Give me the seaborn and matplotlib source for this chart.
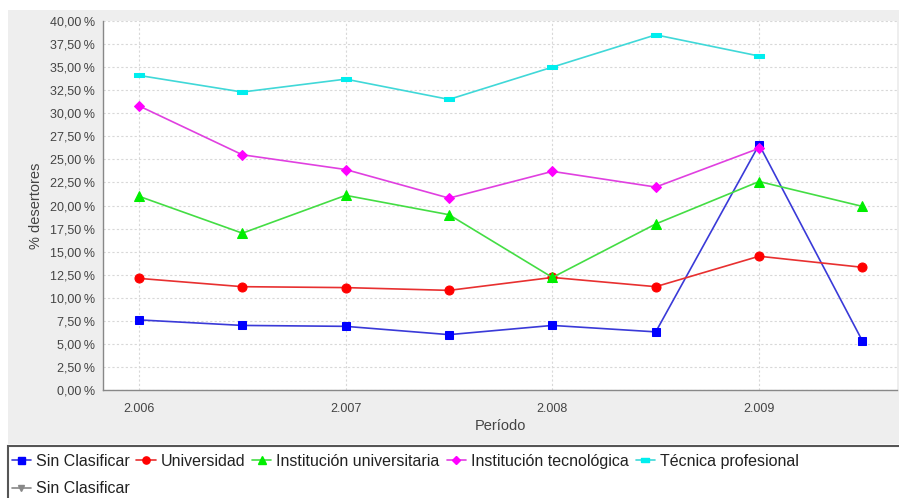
import matplotlib
matplotlib.use("Agg")
import matplotlib.pyplot as plt
import matplotlib.ticker as mticker
from matplotlib.lines import Line2D
from matplotlib.patches import Rectangle
import numpy as np
import pandas as pd
import seaborn as sns

# data (x = period, y = % desertores)
periodos = [2006.0, 2006.5, 2007.0, 2007.5, 2008.0, 2008.5, 2009.0, 2009.5]
sin_clasificar = [7.6, 7.0, 6.9, 6.0, 7.0, 6.3, 26.6, 5.3]
universidad = [12.1, 11.2, 11.1, 10.8, 12.2, 11.2, 14.5, 13.3]
inst_universitaria = [21.0, 17.0, 21.1, 19.0, 12.2, 18.0, 22.6, 19.9]
inst_tecnologica = [30.8, 25.5, 23.9, 20.8, 23.7, 22.0, 26.2, np.nan]
tecnica_profesional = [34.1, 32.3, 33.7, 31.5, 35.0, 38.5, 36.2, np.nan]
year_ticks = [2006, 2007, 2008, 2009]
year_labels = ["2.006", "2.007", "2.008", "2.009"]

sns.set_style("white")
plt.rcParams["font.family"] = ["Liberation Sans", "DejaVu Sans"]

fig = plt.figure(figsize=(8.99, 4.98), dpi=100)
W, H = 899, 498

# gray chart panel behind the plot
fig.patches.append(Rectangle((8 / W, 1 - 444 / H), 1 - 8 / W, (444 - 10) / H,
                             transform=fig.transFigure, facecolor="#eeeeee",
                             edgecolor="none", zorder=-2))
# legend box
fig.patches.append(Rectangle((8 / W, -0.01), 1, (498 - 446) / H + 0.01,
                             transform=fig.transFigure, facecolor="white",
                             edgecolor="#555555", linewidth=1.5, zorder=-2))

ax = fig.add_axes([103 / W, 1 - 390 / H, (897 - 103) / W, (390 - 21) / H])
ax.set_zorder(1)
ax.set_facecolor("white")

rect_marker = [(-1, -0.45), (1, -0.45), (1, 0.45), (-1, 0.45), (-1, -0.45)]

series = [
    ("Sin Clasificar", sin_clasificar, "#0000ff", "#3a3ad8", "s", 6.3),
    ("Universidad", universidad, "#ff0000", "#e83030", "o", 6.5),
    ("Institución universitaria", inst_universitaria, "#00ee00", "#44dd44", "^", 6.5),
    ("Institución tecnológica", inst_tecnologica, "#ff00ff", "#e040e0", "D", 4.8),
    ("Técnica profesional", tecnica_profesional, "#00eeee", "#40d8d8", rect_marker, 7.0),
]

handles = {}
for name, vals, mcol, lcol, mk, ms in series:
    df = pd.DataFrame({"Periodo": periodos, "Valor": vals}).dropna()
    sns.lineplot(data=df, x="Periodo", y="Valor", ax=ax, color=lcol,
                 linewidth=1.2, marker=mk, markersize=ms,
                 markerfacecolor=mcol, markeredgecolor=mcol, zorder=3)
    handles[name] = Line2D([], [], color=lcol, linewidth=1.2, marker=mk,
                           markersize=ms * 0.8, markerfacecolor=mcol,
                           markeredgecolor=mcol)

ax.set_xlim(2005.826, 2009.667)
ax.set_ylim(0, 40)
ax.set_xticks(year_ticks)
ax.set_xticklabels(year_labels)
ax.yaxis.set_major_locator(mticker.MultipleLocator(2.5))
ax.yaxis.set_major_formatter(mticker.FuncFormatter(
    lambda v, p: f"{v:.2f}".replace(".", ",") + "\u2009%"))

ax.grid(True, color="#d8d8d8", linestyle=(0, (2, 2)), linewidth=0.8)
ax.set_axisbelow(True)
for s in ["top", "right"]:
    ax.spines[s].set_visible(False)
for s in ["left", "bottom"]:
    ax.spines[s].set_color("#888888")
    ax.spines[s].set_linewidth(1.0)
ax.tick_params(axis="both", direction="out", length=3, width=0.8,
               color="#888888", labelsize=9, labelcolor="#444444", pad=3)
ax.tick_params(axis="x", pad=6)

ax.set_xlabel("Período", fontsize=10.5, color="#444444", labelpad=3)
ax.set_ylabel("% desertores", fontsize=10.5, color="#444444", labelpad=5)

# legend: blue "Sin Clasificar" and the empty gray one share the first column
gray = Line2D([], [], color="#888888", linewidth=1.2, marker="v",
              markersize=5, markerfacecolor="#888888", markeredgecolor="#888888")
order = [(handles["Sin Clasificar"], "Sin Clasificar"),
         (gray, "Sin Clasificar"),
         (handles["Universidad"], "Universidad"),
         (handles["Institución universitaria"], "Institución universitaria"),
         (handles["Institución tecnológica"], "Institución tecnológica"),
         (handles["Técnica profesional"], "Técnica profesional")]
fig.legend([h for h, l in order], [l for h, l in order],
           loc="upper left", bbox_to_anchor=(10 / W, 1 - 452 / H),
           ncol=5, frameon=False, fontsize=11.5, handlelength=1.2,
           handletextpad=0.3, columnspacing=0.45, labelspacing=0.8,
           borderaxespad=0, borderpad=0.1, labelcolor="#222222")

fig.savefig("out.png", dpi=100, facecolor="white")
